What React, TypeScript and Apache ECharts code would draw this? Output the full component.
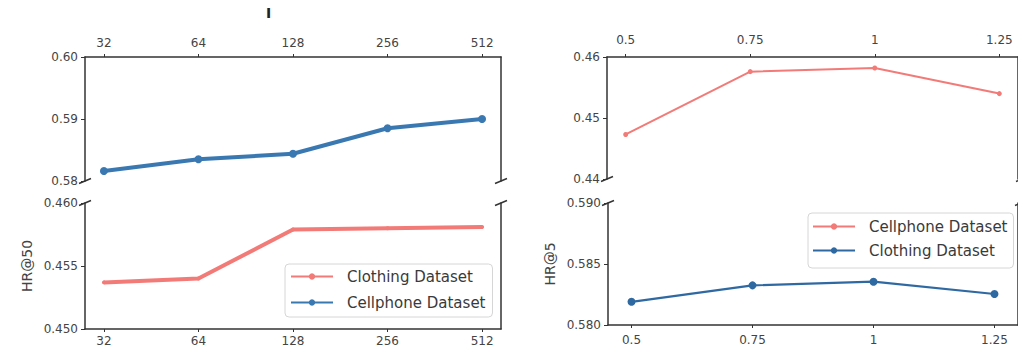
import React, { useEffect, useRef } from "react";
import * as echarts from "echarts";

// ---- data ----
const leftCategories = ["32", "64", "128", "256", "512"];
const leftCellphone = [0.5816, 0.5835, 0.5844, 0.5885, 0.59];
const leftClothing = [0.4537, 0.454, 0.4579, 0.458, 0.4581];
const rightX = [0.5, 0.75, 1, 1.25];
const rightCellphone = [0.4473, 0.4576, 0.4582, 0.454];
const rightClothing = [0.5819, 0.58325, 0.58355, 0.58254];

const FONT = "DejaVu Sans";
const AX = "#333";
const TXT = "#444";
const RED = "#f27b78";
const BLUE = "#3a78b2";
const BLUE2 = "#2f69a2";

// layout
const G = [
  { left: 85, top: 57, width: 416, height: 124 },
  { left: 85, top: 203, width: 416, height: 126 },
  { left: 607, top: 57, width: 415, height: 122 },
  { left: 608, top: 203, width: 413, height: 122 },
];

const line = { show: true, onZero: false, lineStyle: { color: AX, width: 1.5 } };
const lbl = { color: TXT, fontFamily: FONT, fontSize: 12 };

function xAxis(gi: number, pos: string, min: number, max: number, vals: number[], fmt: (v: number) => string, margin: number) {
  return {
    type: "value",
    gridIndex: gi,
    position: pos,
    min,
    max,
    axisLine: line,
    axisTick: { show: true, customValues: vals, length: 3, lineStyle: { color: AX, width: 1 } },
    axisLabel: { ...lbl, customValues: vals, formatter: fmt, margin },
    splitLine: { show: false },
  };
}

function yAxes(gi: number, min: number, max: number, interval: number, digits: number, name?: string, nameGap?: number) {
  return [
    {
      type: "value",
      gridIndex: gi,
      position: "left",
      min,
      max,
      interval,
      axisLine: line,
      axisTick: { show: true, length: 4, lineStyle: { color: AX, width: 1 } },
      axisLabel: { ...lbl, formatter: (v: number) => v.toFixed(digits), margin: 7 },
      splitLine: { show: false },
      name,
      nameLocation: "middle",
      nameGap,
      nameRotate: 90,
      nameTextStyle: { color: TXT, fontFamily: FONT, fontSize: 14 },
    },
    {
      type: "value",
      gridIndex: gi,
      position: "right",
      min,
      max,
      interval,
      axisLine: line,
      axisTick: { show: false },
      axisLabel: { show: false },
      splitLine: { show: false },
    },
  ];
}

const breaks: number[][] = [
  [G[0].left, G[0].top + G[0].height],
  [G[0].left + G[0].width, G[0].top + G[0].height],
  [G[1].left, G[1].top],
  [G[1].left + G[1].width, G[1].top],
  [G[2].left, G[2].top + G[2].height],
  [G[2].left + G[2].width, G[2].top + G[2].height],
  [G[3].left, G[3].top],
  [G[3].left + G[3].width, G[3].top],
];

export default function App() {
  const ref = useRef<HTMLDivElement>(null);
  useEffect(() => {
    if (!ref.current) return;
    const chart = echarts.init(ref.current, undefined, { renderer: "svg" });
    const idx = leftCategories.map((_, i) => i);
    const catFmt = (v: number) => leftCategories[Math.round(v)] ?? "";
    const numFmt = (v: number) => String(Number(v.toFixed(2)));
    const legendBase = {
      orient: "vertical",
      itemWidth: 42,
      itemHeight: 8,
      backgroundColor: "rgba(255,255,255,0.85)",
      borderColor: "#d6d6d6",
      borderWidth: 1,
      borderRadius: 4,
      textStyle: { color: "#3a3a3a", fontFamily: FONT, fontSize: 15, padding: [0, 0, 0, 9] },
      formatter: (n: string) => n.trim(),
      selectedMode: false,
    };
    chart.setOption({
      animation: false,
      backgroundColor: "#fff",
      grid: G.map((g) => ({ ...g, containLabel: false })),
      xAxis: [
        xAxis(0, "top", -0.2, 4.2, idx, catFmt, 8),
        xAxis(1, "bottom", -0.2, 4.2, idx, catFmt, 6),
        xAxis(2, "top", 0.4625, 1.2875, rightX, numFmt, 11),
        xAxis(3, "bottom", 0.4514, 1.2986, rightX, numFmt, 9),
      ],
      yAxis: [
        ...yAxes(0, 0.58, 0.6, 0.01, 2),
        ...yAxes(1, 0.45, 0.46, 0.005, 3, "HR@50", 51),
        ...yAxes(2, 0.44, 0.46, 0.01, 2),
        ...yAxes(3, 0.58, 0.59, 0.005, 3, "HR@5", 51),
      ],
      legend: [
        {
          ...legendBase,
          left: 285,
          top: 264,
          itemGap: 11,
          padding: [5, 7, 7, 5],
          data: ["Clothing Dataset", "Cellphone Dataset"],
        },
        {
          ...legendBase,
          left: 808,
          top: 213,
          itemGap: 9,
          padding: [6, 6, 10, 4],
          data: ["Cellphone Dataset ", "Clothing Dataset "],
        },
      ],
      series: [
        {
          name: "Cellphone Dataset",
          type: "line",
          xAxisIndex: 0,
          yAxisIndex: 0,
          data: leftCellphone.map((v, i) => [i, v]),
          color: BLUE,
          lineStyle: { width: 4 },
          symbol: "circle",
          symbolSize: 8,
        },
        {
          name: "Clothing Dataset",
          type: "line",
          xAxisIndex: 1,
          yAxisIndex: 2,
          data: leftClothing.map((v, i) => [i, v]),
          color: RED,
          lineStyle: { width: 4 },
          symbol: "circle",
          symbolSize: 4,
        },
        {
          name: "Cellphone Dataset ",
          type: "line",
          xAxisIndex: 2,
          yAxisIndex: 4,
          data: rightCellphone.map((v, i) => [rightX[i], v]),
          color: RED,
          lineStyle: { width: 2 },
          symbol: "circle",
          symbolSize: 5,
        },
        {
          name: "Clothing Dataset ",
          type: "line",
          xAxisIndex: 3,
          yAxisIndex: 6,
          data: rightClothing.map((v, i) => [rightX[i], v]),
          color: BLUE2,
          lineStyle: { width: 2.2 },
          symbol: "circle",
          symbolSize: 8,
        },
      ],
      graphic: [
        ...breaks.map(([x, y]) => ({
          type: "line",
          shape: { x1: x - 6, y1: y + 2.5, x2: x + 6, y2: y - 2.5 },
          style: { stroke: AX, lineWidth: 1.4 },
          silent: true,
        })),
        {
          type: "text",
          left: 266,
          top: 6,
          style: { text: "I", fill: "#222", font: "bold 14px DejaVu Sans" },
        },
      ],
    });
    return () => chart.dispose();
  }, []);
  return (
    <div
      ref={ref}
      style={{ position: "fixed", left: 0, top: 0, width: 1018, height: 348, background: "#fff" }}
    />
  );
}
